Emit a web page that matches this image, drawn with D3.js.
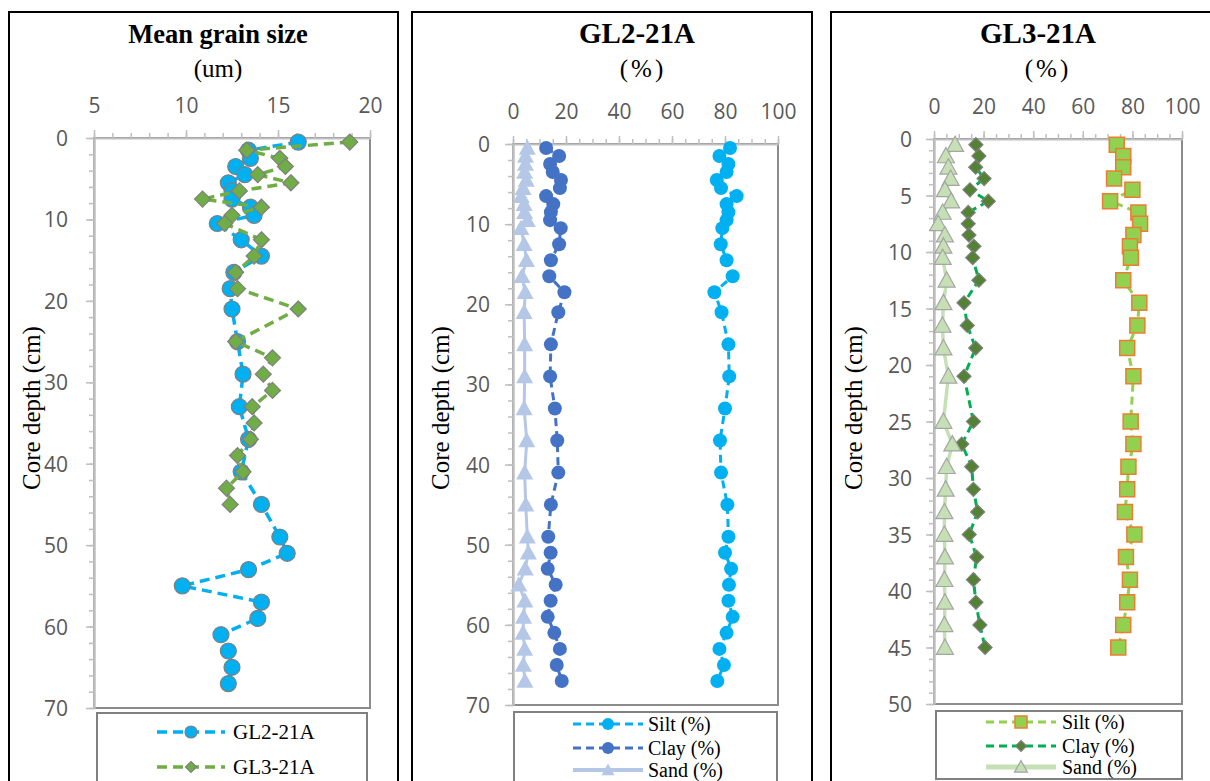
<!DOCTYPE html>
<html>
<head>
<meta charset="utf-8">
<script src="https://cdn.jsdelivr.net/npm/d3@7/dist/d3.min.js"></script>
<style>
  html, body { margin: 0; padding: 0; background: #fff; }
  svg { display: block; }
  .tick text { font-family: "Open Sans", "Liberation Sans", sans-serif; font-size: 21px; fill: #595959; }
</style>
</head>
<body>
<svg id="chart" width="1210" height="781"></svg>
<script>
// ---- Core sampling depths (cm) ----
const depthGL2 = [0.5, 1.5, 2.5, 3.5, 4.5, 5.5, 6.5, 7.5, 8.5, 9.5, 10.5, 12.5, 14.5, 16.5, 18.5,
  21, 25, 29, 33, 37, 41, 45, 49, 51, 53, 55, 57, 59, 61, 63, 65, 67];
const depthGL3 = [0.5, 1.5, 2.5, 3.5, 4.5, 5.5, 6.5, 7.5, 8.5, 9.5, 10.5, 12.5, 14.5, 16.5, 18.5,
  21, 25, 27, 29, 31, 33, 35, 37, 39, 41, 43, 45];

// ---- Mean grain size (um) ----
const meanGL2 = [16.1, 13.4, 13.5, 12.7, 13.2, 12.3, 12.5, 12.5, 13.5, 13.7, 11.7, 13.0, 14.1, 12.6, 12.4,
  12.5, 12.8, 13.1, 12.9, 13.4, 13.0, 14.1, 15.1, 15.5, 13.4, 9.8, 14.1, 13.9, 11.9, 12.3, 12.5, 12.3];
const meanGL3 = [18.9, 13.3, 15.1, 15.4, 13.9, 15.7, 12.9, 10.9, 14.1, 12.5, 12.1, 14.1, 13.7, 12.7, 12.8,
  16.1, 12.7, 14.7, 14.2, 14.7, 13.6, 13.7, 13.5, 12.8, 13.1, 12.2, 12.4];

// ---- GL2-21A grain-size fractions (%) ----
const siltGL2 = [81.9, 77.9, 81.3, 80.6, 76.9, 78.5, 84.4, 80.6, 81.3, 80.6, 79.0, 78.4, 80.6, 82.9, 76.0,
  78.7, 81.3, 81.6, 80.0, 78.1, 78.5, 80.9, 81.3, 80.0, 82.3, 81.5, 81.3, 82.9, 80.6, 77.9, 79.6, 77.1];
const clayGL2 = [12.5, 17.4, 14.0, 15.0, 18.1, 17.7, 12.5, 15.2, 14.3, 14.0, 18.0, 17.4, 14.3, 13.7, 19.4,
  17.1, 14.3, 14.0, 15.8, 16.7, 17.1, 14.3, 13.3, 14.2, 13.1, 16.1, 14.2, 13.1, 15.6, 17.7, 16.5, 18.4];
const sandGL2 = [5.4, 4.7, 4.7, 4.4, 5.0, 3.8, 3.1, 4.2, 4.4, 5.4, 3.0, 4.2, 5.1, 3.4, 4.6,
  4.2, 4.4, 4.4, 4.2, 5.2, 4.4, 4.8, 5.4, 5.8, 4.6, 2.2, 4.5, 4.0, 3.8, 4.4, 3.9, 4.5];

// ---- GL3-21A grain-size fractions (%) ----
const siltGL3 = [73.7, 76.3, 76.3, 72.6, 80.0, 71.0, 82.4, 83.1, 80.4, 79.0, 79.4, 76.3, 82.8, 82.0, 77.9,
  80.4, 79.3, 80.4, 78.4, 77.9, 77.0, 80.8, 77.4, 79.0, 77.9, 76.3, 74.3];
const clayGL3 = [16.9, 18.1, 16.8, 20.2, 14.5, 21.9, 13.8, 13.8, 14.1, 16.1, 15.6, 18.1, 12.1, 13.4, 16.8,
  12.1, 15.9, 11.2, 15.2, 15.9, 17.6, 14.2, 17.2, 15.9, 16.9, 18.5, 20.6];
const sandGL3 = [8.5, 4.8, 5.8, 6.7, 4.4, 6.9, 3.5, 1.7, 4.4, 3.8, 3.5, 5.1, 3.8, 3.4, 3.8,
  5.8, 3.8, 7.4, 5.1, 4.7, 4.2, 4.2, 4.4, 4.2, 4.4, 4.2, 4.4];

// ---- Axis tick values ----
const meanTicks = [5, 10, 15, 20];
const pctTicks = [0, 20, 40, 60, 80, 100];
const depthTicks70 = [0, 10, 20, 30, 40, 50, 60, 70];
const depthTicks50 = [0, 5, 10, 15, 20, 25, 30, 35, 40, 45, 50];

// ---- Panel titles and series names ----
const panelTitles = ["Mean grain size", "GL2-21A", "GL3-21A"];
const panelUnits = ["(um)", "(%)", "(%)"];
const depthLabel = "Core depth (cm)";
const meanNames = ["GL2-21A", "GL3-21A"];
const fracNames = ["Silt (%)", "Clay (%)", "Sand (%)"];

const svg = d3.select("#chart");
const SERIF = "'Liberation Serif', 'Times New Roman', serif";

function zip(depths, vals) { return depths.map((d, i) => ({ d, v: vals[i] })); }

function markerPath(shape, size) {
  const s = size;
  if (shape === "circle") return d3.symbol(d3.symbolCircle, Math.PI * s * s)();
  if (shape === "diamond") return `M0,${-s}L${s},0L0,${s}L${-s},0Z`;
  if (shape === "square") return `M${-s},${-s}H${s}V${s}H${-s}Z`;
  if (shape === "triangle") return `M0,${-s * 1.0}L${s},${s * 0.8}L${-s},${s * 0.8}Z`;
}

function drawPanel(cfg) {
  const g = svg.append("g");
  // outer frame
  g.append("rect").attr("x", cfg.frame[0]).attr("y", cfg.frame[1])
    .attr("width", cfg.frame[2] - cfg.frame[0]).attr("height", 800)
    .attr("fill", "none").attr("stroke", "#000").attr("stroke-width", 2);

  // titles
  g.append("text").attr("x", cfg.titleX).attr("y", 43).attr("text-anchor", "middle")
    .style("font-family", SERIF).style("font-weight", "bold").style("font-size", cfg.titleSize + "px")
    .text(cfg.title);
  g.append("text").attr("x", cfg.unitX).attr("y", 77).attr("text-anchor", "middle")
    .style("font-family", SERIF).style("font-size", "25px").style("letter-spacing", cfg.unitSpacing + "px")
    .text(cfg.unit);

  const x = d3.scaleLinear().domain(cfg.xDomain).range([cfg.plot[0], cfg.plot[2]]);
  const y = d3.scaleLinear().domain(cfg.yDomain).range([cfg.plot[1], cfg.plot[3]]);

  // plot area box
  g.append("rect").attr("x", cfg.plot[0]).attr("y", cfg.plot[1])
    .attr("width", cfg.plot[2] - cfg.plot[0]).attr("height", cfg.plot[3] - cfg.plot[1])
    .attr("fill", "#fff").attr("stroke", "#8c8c8c").attr("stroke-width", 2);

  // minor ticks
  const minorX = d3.range(cfg.xDomain[0], cfg.xDomain[1] + 1e-9, cfg.xMinor);
  const minorY = d3.range(cfg.yDomain[0], cfg.yDomain[1] + 1e-9, cfg.yMinor);
  g.append("g").attr("transform", `translate(0,${cfg.plot[1]})`)
    .call(d3.axisTop(x).tickValues(minorX).tickSize(5).tickFormat(""))
    .call(a => a.select(".domain").remove())
    .call(a => a.selectAll("line").attr("stroke", "#bfbfbf").attr("stroke-width", 1.5));
  g.append("g").attr("transform", `translate(${cfg.plot[0]},0)`)
    .call(d3.axisLeft(y).tickValues(minorY).tickSize(5).tickFormat(""))
    .call(a => a.select(".domain").remove())
    .call(a => a.selectAll("line").attr("stroke", "#bfbfbf").attr("stroke-width", 1.5));

  // major ticks + labels
  g.append("g").attr("transform", `translate(0,${cfg.plot[1]})`)
    .call(d3.axisTop(x).tickValues(cfg.xTicks).tickSize(8).tickPadding(17).tickSizeOuter(0))
    .call(a => a.select(".domain").attr("stroke", "#bfbfbf").attr("stroke-width", 2))
    .call(a => a.selectAll("line").attr("stroke", "#bfbfbf").attr("stroke-width", 1.5));
  g.append("g").attr("transform", `translate(${cfg.plot[0]},0)`)
    .call(d3.axisLeft(y).tickValues(cfg.yTicks).tickSize(8).tickPadding(cfg.yPad).tickSizeOuter(0))
    .call(a => a.select(".domain").attr("stroke", "#bfbfbf").attr("stroke-width", 2.5))
    .call(a => a.selectAll("line").attr("stroke", "#bfbfbf").attr("stroke-width", 1.5))
    .call(a => a.selectAll("text").attr("dy", "0.36em"));

  // y axis label
  g.append("text")
    .attr("transform", `translate(${cfg.yLabelX},408) rotate(-90)`)
    .attr("text-anchor", "middle").attr("dy", "0.35em")
    .style("font-family", SERIF).style("font-size", "25px")
    .text(depthLabel);

  // series
  const line = d3.line().x(p => x(p.v)).y(p => y(p.d));
  cfg.series.forEach(s => {
    const pts = zip(s.depths, s.values);
    const sg = g.append("g");
    sg.append("path").attr("d", line(pts)).attr("fill", "none")
      .attr("stroke", s.lineColor).attr("stroke-width", s.lineWidth)
      .attr("stroke-dasharray", s.dash || null).attr("stroke-linejoin", "round");
    sg.selectAll("path.mk").data(pts).join("path").attr("class", "mk")
      .attr("transform", p => `translate(${x(p.v)},${y(p.d)})`)
      .attr("d", markerPath(s.shape, s.size))
      .attr("fill", s.fill).attr("stroke", s.stroke || "none").attr("stroke-width", s.strokeWidth || 1.2);
  });

  // legend
  const L = cfg.legend;
  g.append("rect").attr("x", L.box[0]).attr("y", L.box[1])
    .attr("width", L.box[2] - L.box[0]).attr("height", L.box[3] - L.box[1])
    .attr("fill", "#fff").attr("stroke", "#808080").attr("stroke-width", 2);
  cfg.series.forEach((s, i) => {
    const cy = L.rows[i];
    g.append("line").attr("x1", L.lineX[0]).attr("x2", L.lineX[1]).attr("y1", cy).attr("y2", cy)
      .attr("stroke", s.lineColor).attr("stroke-width", s.legendLineWidth || s.lineWidth)
      .attr("stroke-dasharray", s.dash || null);
    g.append("path").attr("transform", `translate(${(L.lineX[0] + L.lineX[1]) / 2},${cy})`)
      .attr("d", markerPath(s.shape, s.legendSize))
      .attr("fill", s.fill).attr("stroke", s.stroke || "none").attr("stroke-width", s.strokeWidth || 1.2);
    g.append("text").attr("x", L.textX).attr("y", cy).attr("dy", "0.33em")
      .style("font-family", SERIF).style("font-size", L.fontSize + "px").text(s.name);
  });
}

// Panel 1: mean grain size
drawPanel({
  frame: [9, 12, 398],
  title: panelTitles[0], titleSize: 26.5, titleX: 218,
  unit: panelUnits[0], unitX: 218, unitSpacing: 0,
  plot: [94, 138, 370, 708],
  xDomain: [5, 20], xTicks: meanTicks, xMinor: 1,
  yDomain: [0, 70], yTicks: depthTicks70, yMinor: 2, yPad: 18,
  yLabelX: 31,
  series: [
    { name: meanNames[0], depths: depthGL2, values: meanGL2, shape: "circle", size: 8,
      fill: "#00B0F0", stroke: "#7f7f7f", lineColor: "#00B0F0", lineWidth: 3.5, dash: "10,6",
      legendSize: 6, legendLineWidth: 3.5 },
    { name: meanNames[1], depths: depthGL3, values: meanGL3, shape: "diamond", size: 8,
      fill: "#70AD47", stroke: "#7f7f7f", lineColor: "#70AD47", lineWidth: 3.5, dash: "10,6",
      legendSize: 5.5, legendLineWidth: 3.5 }
  ],
  legend: { box: [97, 713, 367, 800], rows: [732, 767], lineX: [157, 225], textX: 233, fontSize: 21 }
});

// Panel 2: GL2-21A fractions
drawPanel({
  frame: [412, 12, 812],
  title: panelTitles[1], titleSize: 29, titleX: 637,
  unit: panelUnits[1], unitX: 643, unitSpacing: 3,
  plot: [513, 144, 778, 705],
  xDomain: [0, 100], xTicks: pctTicks, xMinor: 5,
  yDomain: [0, 70], yTicks: depthTicks70, yMinor: 2, yPad: 15,
  yLabelX: 440,
  series: [
    { name: fracNames[0], depths: depthGL2, values: siltGL2, shape: "circle", size: 7,
      fill: "#00B0F0", lineColor: "#00B0F0", lineWidth: 3, dash: "8,5",
      legendSize: 6, legendLineWidth: 3 },
    { name: fracNames[1], depths: depthGL2, values: clayGL2, shape: "circle", size: 7,
      fill: "#4472C4", lineColor: "#4472C4", lineWidth: 3, dash: "8,5",
      legendSize: 6, legendLineWidth: 3 },
    { name: fracNames[2], depths: depthGL2, values: sandGL2, shape: "triangle", size: 8.5,
      fill: "#B4C7E7", lineColor: "#B4C7E7", lineWidth: 3,
      legendSize: 6.5, legendLineWidth: 4 }
  ],
  legend: { box: [514, 712, 777, 800], rows: [724, 748, 770], lineX: [573, 643], textX: 648, fontSize: 20 }
});

// Panel 3: GL3-21A fractions
drawPanel({
  frame: [831, 12, 1230],
  title: panelTitles[2], titleSize: 29, titleX: 1038,
  unit: panelUnits[2], unitX: 1048, unitSpacing: 3,
  plot: [934, 139, 1182, 704],
  xDomain: [0, 100], xTicks: pctTicks, xMinor: 5,
  yDomain: [0, 50], yTicks: depthTicks50, yMinor: 1, yPad: 14,
  yLabelX: 853,
  series: [
    { name: fracNames[0], depths: depthGL3, values: siltGL3, shape: "square", size: 7.5,
      fill: "#92D050", stroke: "#ED7D31", strokeWidth: 1.5, lineColor: "#92D050", lineWidth: 3, dash: "8,5",
      legendSize: 6, legendLineWidth: 3 },
    { name: fracNames[1], depths: depthGL3, values: clayGL3, shape: "diamond", size: 7,
      fill: "#548235", stroke: "#7f7f7f", lineColor: "#00B050", lineWidth: 3, dash: "8,5",
      legendSize: 5.5, legendLineWidth: 3 },
    { name: fracNames[2], depths: depthGL3, values: sandGL3, shape: "triangle", size: 8.5,
      fill: "#C5E0B4", stroke: "#a5a5a5", lineColor: "#C5E0B4", lineWidth: 3.5,
      legendSize: 6.5, legendLineWidth: 5 }
  ],
  legend: { box: [936, 711, 1182, 779], rows: [722, 746, 767], lineX: [986, 1056], textX: 1062, fontSize: 20 }
});
</script>
</body>
</html>
